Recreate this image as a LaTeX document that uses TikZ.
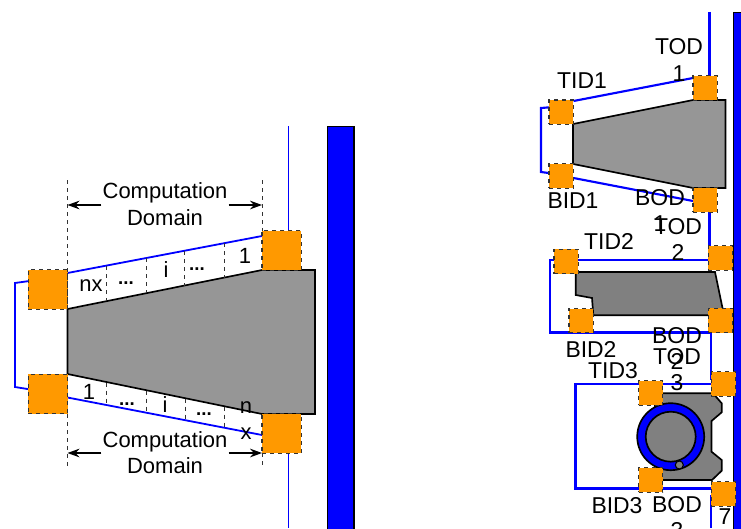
\documentclass[tikz,border=0pt]{standalone}
\usepackage{fontspec}
\setmainfont{Liberation Sans}
\usepackage{xcolor}
\usetikzlibrary{arrows.meta, positioning}
\definecolor{bleu}{HTML}{0000FF}
\definecolor{orange}{HTML}{FF9900}
\definecolor{grisA}{HTML}{969696}
\definecolor{grisB}{HTML}{808080}
\tikzset{
  fil/.style={draw=bleu, line width=1.35pt},
  fild/.style={draw=bleu, line width=1.6pt},
  paroi/.style={draw=black, fill=bleu, line width=0.8pt},
  bloc/.style={draw=black!80, fill=orange, dashed, line width=0.8pt, inner sep=0pt, outer sep=0pt, minimum size=#1},
  bloc/.default=18.3pt,
  corps/.style={draw=black, line join=miter, line width=1.25pt},
  trait/.style={black!80, dashed, line width=0.5pt},
  cote/.style={black, line width=0.8pt, -{Stealth[length=9pt,width=6.5pt]}},
  lab/.style={font=\fontsize{16.5}{20}\selectfont, align=center, inner sep=0pt},
  labd/.style={font=\fontsize{17.2}{20}\selectfont, align=center, inner sep=0pt},
  pts/.style={font=\fontsize{14}{20}\selectfont\bfseries, inner sep=0pt}
}

\begin{document}
\begin{tikzpicture}[x=0.75pt, y=-0.75pt]
    \useasboundingbox (0,0) rectangle (741,528);
    \clip (0,0) rectangle (741,528);

    % Parois
    \draw[paroi] (327.5,126.5) rectangle (354,540);
    \draw[paroi] (733.5,12.5) rectangle (745,540);

    % Fils gauche
    \draw[fil] (288.5,126) -- (288.5,240);
    \draw[fil] (288.5,440) -- (288.5,528);
    \draw[fil] (40,279.5) -- (15,283) -- (15,387) -- (40,391);
    \draw[fil] (67.5,273) -- (262,236);
    \draw[fil] (67.5,397.5) -- (262,435);

    % Corps gauche
    \draw[corps, fill=grisA] (67.5,309) -- (262,270) -- (315,270) -- (315,414) -- (262,414) -- (67.5,374) -- cycle;

    % Blocs gauche
    \node[bloc=29.6pt] (tidg) at (48,289.5) {};
    \node[bloc=29.6pt] (bidg) at (48,394) {};
    \node[bloc=29.6pt] (todg) at (281.75,250.5) {};
    \node[bloc=29.6pt] (bodg) at (281.75,433.5) {};

    % Mailles
    \draw[trait] (106,266) -- (106,300.5);
    \draw[trait] (146,258) -- (146,293);
    \draw[trait] (184,251) -- (184,285.5);
    \draw[trait] (224,243) -- (224,277.5);
    \draw[trait] (106,382.5) -- (106,405);
    \draw[trait] (146,390.5) -- (146,412.5);
    \draw[trait] (185,398.5) -- (185,420);
    \draw[trait] (224,406.5) -- (224,427);

    % Domaines
    \draw[trait] (67.5,180) -- (67.5,309);
    \draw[trait] (262,180) -- (262,231);
    \draw[trait] (67.5,414) -- (67.5,466);
    \draw[trait] (262,453) -- (262,466);
    \node[lab] (domh) at (165,204) {Computation\\Domain};
    \node[lab] (domb) at (165,452.5) {Computation\\Domain};
    \draw[cote] (domh.west) ++(-1,1) -- (67.5,205);
    \draw[cote] (domh.east) ++(1,1) -- (262,205);
    \draw[cote] (domb.west) ++(-1,0.5) -- (67.5,453);
    \draw[cote] (domb.east) ++(1,0.5) -- (262,453);

    % Libelles mailles
    \node[lab] (nxh) at (91,286) {nx};
    \node[pts] (ph1) at (126,283) {...};
    \node[lab] (ih) at (166,270) {i};
    \node[pts] (ph2) at (197,269) {...};
    \node[lab] (unh) at (245,256) {1};
    \node[lab] (unb) at (89,392) {1};
    \node[pts] (pb1) at (127,404) {...};
    \node[lab] (ib) at (165,405) {i};
    \node[pts] (pb2) at (204,414) {...};
    \node[lab] (nxb) at (246,420.5) {n\\x};

    % Fils droite
    \draw[fild] (709.5,12) -- (709.5,80);
    \draw[fild] (709.5,205) -- (709.5,250);
    \draw[fild] (711,325) -- (711,380);
    \draw[fild] (711,495) -- (711,528);
    \draw[fild] (560,106.5) -- (541,108) -- (541,172) -- (560,174.5);
    \draw[fild] (573.5,101) -- (693,78);
    \draw[fild] (573.5,178) -- (693,201);
    \draw[fild] (711,260) -- (550,260) -- (550,332.5) -- (711,332.5);
    \draw[fild] (711,384.3) -- (575.5,384.3) -- (575.5,488.5) -- (711,488.5);

    % Corps droite
    \draw[corps, fill=grisA] (573,124) -- (693,100) -- (725.5,100) -- (725.5,188) -- (693,188) -- (573,164) -- cycle;
    \draw[corps, fill=grisB] (575.7,272) -- (715,272) -- (722.7,309) -- (722.7,315.3) -- (593.3,315.3) -- (592,298) -- (575.7,295) -- cycle;
    \draw[corps, fill=grisB] (655,393.3) -- (713,393.3) -- (721.7,403.3) -- (721.7,412.3) -- (711.5,421) -- (711.5,451.7) -- (721.7,460) -- (721.7,470.7) -- (712,480) -- (655,480) -- cycle;
    \draw[corps, fill=bleu] (670.7,436.7) circle [radius=33.5];
    \draw[corps, fill=grisB] (670.7,436.7) circle [radius=25];
    \draw[corps, fill=grisB, line width=0.8pt] (679.3,465) circle [radius=4];

    % Blocs droite
    \node[bloc] (tid1) at (561.2,112.2) {};
    \node[bloc] (bid1) at (561.2,176) {};
    \node[bloc] (tod1) at (705.2,88) {};
    \node[bloc] (bod1) at (705.2,200) {};
    \node[bloc] (tid2) at (566.2,261.5) {};
    \node[bloc] (bid2) at (581.2,320.7) {};
    \node[bloc] (tod2) at (720.5,258) {};
    \node[bloc] (bod2) at (720.5,320.5) {};
    \node[bloc] (tid3) at (650.7,393) {};
    \node[bloc] (bid3) at (650.7,480) {};
    \node[bloc] (tod3) at (723.5,384) {};
    \node[bloc] (bod3) at (723.5,494) {};

    % Libelles droite
    \node[labd] (ltod1) at (679,60) {TOD\\1};
    \node[labd] (ltid1) at (582,81) {TID1};
    \node[labd] (lbid1) at (573,201) {BID1};
    \node[labd] (lbod1) at (660,210.5) {BOD\\1};
    \node[labd] (ltod2) at (678,239.5) {TOD\\2};
    \node[labd] (ltid2) at (609,241) {TID2};
    \node[labd] (lbid2) at (591,349) {BID2};
    \node[labd] (lbod2) at (677,348.5) {BOD\\2};
    \node[labd] (ltod3) at (677,369.5) {TOD\\3};
    \node[labd] (ltid3) at (613,371) {TID3};
    \node[labd] (lbid3) at (617,506) {BID3};
    \node[labd] (lbod3) at (677,517.5) {BOD\\3};
    \node[labd] (lsept) at (725,517) {7};
  \end{tikzpicture}
\end{document}
